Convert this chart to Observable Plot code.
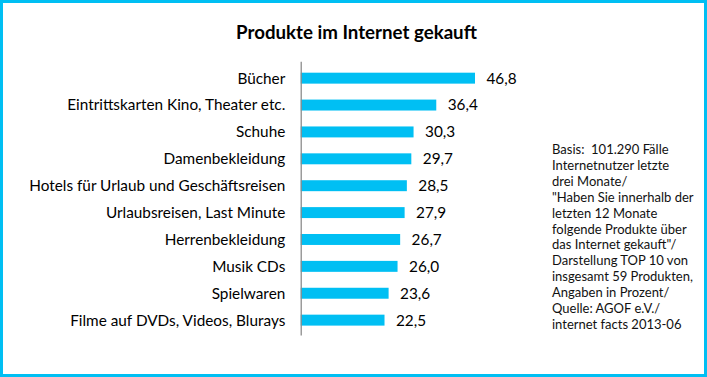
<!DOCTYPE html>
<html>
<head>
<meta charset="utf-8">
<script src="https://cdn.jsdelivr.net/npm/d3@7"></script>
<script src="https://cdn.jsdelivr.net/npm/@observablehq/plot@0.6"></script>
<style>
  html, body { margin: 0; padding: 0; background: #fff; }
  #frame {
    position: relative; width: 707px; height: 377px; box-sizing: border-box;
    border: 3px solid #00BFF3; overflow: hidden; background: #fff;
    font-family: Lato, "Open Sans", sans-serif;
  }
  #title {
    position: absolute; left: 0; width: 701px; top: 18px; text-align: center;
    font-weight: bold; font-size: 18.7px; color: #000; padding-left: 3px;
  }
  #chart { position: absolute; left: -3px; top: -3px; }
  #note {
    position: absolute; left: 549px; top: 139px; font-size: 13px;
    line-height: 15.9px; color: #111; white-space: pre;
  }
</style>
</head>
<body>
<div id="frame">
  <div id="chart"></div>
  <div id="title"></div>
  <div id="note"></div>
</div>
<script>
const titleText = "Produkte im Internet gekauft";
const categories = [
  "Bücher",
  "Eintrittskarten Kino, Theater etc.",
  "Schuhe",
  "Damenbekleidung",
  "Hotels für Urlaub und Geschäftsreisen",
  "Urlaubsreisen, Last Minute",
  "Herrenbekleidung",
  "Musik CDs",
  "Spielwaren",
  "Filme auf DVDs, Videos, Blurays"
];
const values = [46.8, 36.4, 30.3, 29.7, 28.5, 27.9, 26.7, 26.0, 23.6, 22.5];
const noteLines = [
  "Basis:  101.290 Fälle",
  "Internetnutzer letzte",
  "drei Monate/",
  "\"Haben Sie innerhalb der",
  "letzten 12 Monate",
  "folgende Produkte über",
  "das Internet gekauft\"/",
  "Darstellung TOP 10 von",
  "insgesamt 59 Produkten,",
  "Angaben in Prozent/",
  "Quelle: AGOF e.V./",
  "internet facts 2013-06"
];

const data = categories.map((c, i) => ({category: c, value: values[i]}));
const fmt = v => v.toFixed(1).replace(".", ",");

document.getElementById("title").textContent = titleText;
document.getElementById("note").textContent = noteLines.join("\n");

const chart = Plot.plot({
  width: 707,
  height: 377,
  marginTop: 62,
  marginBottom: 40,
  marginLeft: 302,
  marginRight: 218,
  style: {fontFamily: "Lato, 'Open Sans', sans-serif", fontSize: "15.4px", color: "#000", background: "transparent"},
  x: {domain: [0, 50], axis: null},
  y: {domain: categories, paddingInner: 0.6, paddingOuter: 0.3, label: null, axis: null},
  marks: [
    Plot.barX(data, {x: "value", y: "category", fill: "#00BFF3"}),
    Plot.ruleX([0], {stroke: "#8c8c8c", strokeWidth: 1.3}),
    Plot.text(data, {x: "value", y: "category", text: d => fmt(d.value), textAnchor: "start", dx: 11, fontSize: 15.4, fill: "#000"}),
    Plot.axisY({tickSize: 0, tickPadding: 16, fontSize: 15.4, label: null, fill: "#000"})
  ]
});
document.getElementById("chart").appendChild(chart);
</script>
</body>
</html>
